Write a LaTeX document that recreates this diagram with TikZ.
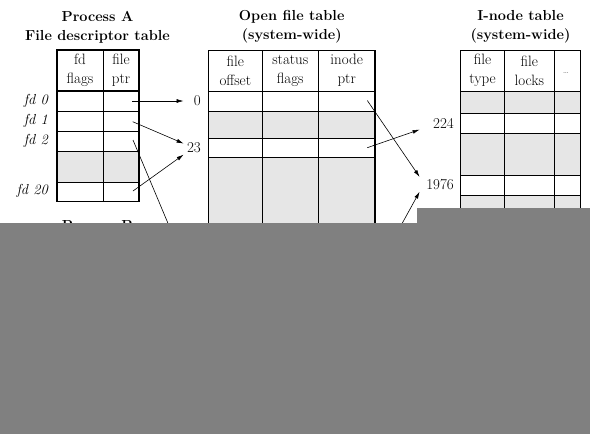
\documentclass[tikz,border=0pt]{standalone}
\usepackage{tikz}
\usetikzlibrary{positioning, arrows.meta}

\definecolor{cover}{RGB}{128,128,128}
\definecolor{usedrow}{RGB}{230,230,230}

\tikzset{
  hdr/.style={font=\fontsize{14.5}{19}\selectfont\bfseries, align=center, inner sep=0pt},
  colhead/.style={font=\fontsize{15}{19}\selectfont, align=center, inner sep=0pt},
  fdlabel/.style={font=\fontsize{14.5}{15}\selectfont\itshape, anchor=east, inner sep=0pt},
  idx/.style={font=\fontsize{15}{15}\selectfont, align=right, inner sep=2pt, anchor=east},
  ptr/.style={-{Latex[length=7pt,width=4pt]}, line width=0.6pt},
  tabframe/.style={line width=1.1pt},
  tabline/.style={line width=0.6pt},
}

\begin{document}
\begin{tikzpicture}[x=1pt, y=-1pt]
\useasboundingbox (0,0) rectangle (590,434);

% Process A: file descriptor table
\node[hdr] (hdrA) at (97.5,27) {Process A\\File descriptor table};
\fill[usedrow] (57,151) rectangle (139,182);
\draw[tabline] (103,50) -- (103,201.5);
\draw[tabline] (57,111) -- (139,111) (57,131) -- (139,131)
  (57,151) -- (139,151) (57,182) -- (139,182);
\draw[tabframe] (57,91) -- (139,91);
\draw[tabframe] (57,50) rectangle (139,201.5);
\node[colhead] (fdflags) at (80,70.5) {fd\\flags};
\node[colhead] (fdptr) at (121,70.5) {file\\ptr};

\node[fdlabel] (fd0) at (48,101) {fd 0};
\node[fdlabel] (fd1) at (48,121) {fd 1};
\node[fdlabel] (fd2) at (48,141) {fd 2};
\node[fdlabel] (fd20) at (48,191) {fd 20};

\coordinate (pa0) at (132,101);
\coordinate (pa1) at (132.7,121.7);
\coordinate (pa2) at (133,140);
\coordinate (pa20) at (133,191);

\node[hdr] (hdrB) at (97.5,225.5) {Process B};

% Open file table
\node[hdr] (hdrOF) at (291.7,27) {Open file table\\(system-wide)};
\fill[usedrow] (208.3,111) rectangle (375,138.3);
\fill[usedrow] (208.3,157.7) rectangle (375,223);
\draw[tabline] (262.3,50.7) -- (262.3,223) (318.3,50.7) -- (318.3,223);
\draw[tabline] (208.3,111) -- (375,111) (208.3,138.3) -- (375,138.3)
  (208.3,157.7) -- (375,157.7);
\draw[tabframe] (208.3,91.7) -- (375,91.7);
\draw[tabframe] (208.3,223) -- (208.3,50.7) -- (375,50.7) -- (375,223);
\node[colhead] (offset) at (235.3,70.5) {file\\offset};
\node[colhead] (status) at (290.3,70.5) {status\\flags};
\node[colhead] (inoptr) at (346.7,70.5) {inode\\ptr};

\node[idx, text width=15pt] (of0) at (203,101) {0};
\node[idx, text width=15pt] (of23) at (203,147.7) {23};

\coordinate (po0) at (367.3,100.5);
\coordinate (po23) at (367.3,147.7);

% I-node table
\node[hdr] (hdrIN) at (520.5,27) {I-node table\\(system-wide)};
\fill[usedrow] (460.7,91.7) rectangle (580.7,113.7);
\fill[usedrow] (460.7,133.7) rectangle (580.7,175);
\fill[usedrow] (460.7,195) rectangle (580.7,223);
\draw[tabline] (504.3,50.7) -- (504.3,223) (554,50.7) -- (554,223);
\draw[tabline] (460.7,113.7) -- (580.7,113.7) (460.7,133.7) -- (580.7,133.7)
  (460.7,175) -- (580.7,175) (460.7,195) -- (580.7,195);
\draw[tabframe] (460.7,91.7) -- (580.7,91.7);
\draw[tabframe] (460.7,223) -- (460.7,50.7) -- (580.7,50.7) -- (580.7,223);
\node[colhead] (ftype) at (482.5,70.5) {file\\type};
\node[colhead] (flocks) at (529.2,70.5) {file\\locks};
\node[colhead, font=\small, text=black!70] (more) at (566,73) {\dots};

\node[idx, text width=32pt] (in224) at (456,123.3) {224};
\node[idx, text width=32pt] (in1976) at (456,184.3) {1976};

\coordinate (hid2) at (175,240);
\coordinate (hidB) at (393,240);

% Pointers
\draw[ptr] (pa0) -- (of0);
\draw[ptr] (pa1) -- (of23);
\draw[ptr] (pa20) -- (of23);
\draw[tabline] (pa2) -- (hid2);
\draw[ptr] (po0) -- (in1976.north west);
\draw[ptr] (po23) -- (in224);
\draw[ptr] (hidB) -- (in1976.south west);

% Grey cover
\fill[cover] (0,223) rectangle (590,434);
\fill[cover] (416.7,207.7) rectangle (590,223);
\end{tikzpicture}
\end{document}
